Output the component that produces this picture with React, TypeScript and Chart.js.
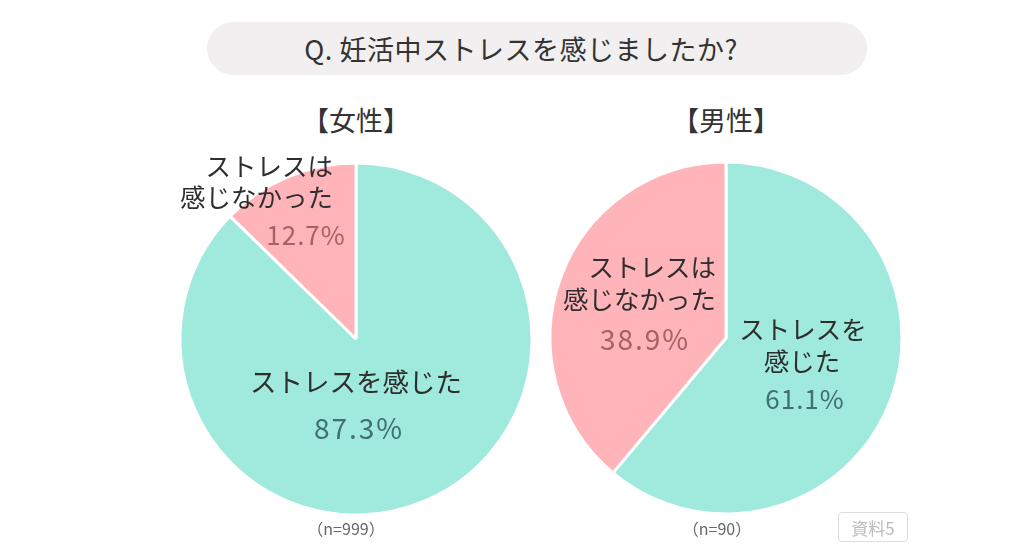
import React, { useEffect, useRef } from "react";
import { Chart, registerables } from "chart.js";

Chart.register(...registerables);

const TITLE = "Q. 妊活中ストレスを感じましたか?";
const CATEGORIES = ["ストレスを感じた", "ストレスは感じなかった"];
const FEMALE_VALUES = [87.3, 12.7];
const MALE_VALUES = [61.1, 38.9];
const GROUP_TITLES = ["【女性】", "【男性】"];
const SAMPLE_LABELS = ["（n=999）", "（n=90）"];
const SOURCE_LABEL = "資料5";

const TEAL = "#9FE9DD";
const PINK = "#FFB4B9";
const TEAL_TEXT = "#426F71";
const PINK_TEXT = "#A85F66";
const LABEL_TEXT = "#2e2e2e";
const FONT = '"Noto Sans CJK JP", "Noto Sans", sans-serif';

type LabelLine = {
  text: string;
  dx: number;
  dy: number;
  color: string;
  size: number;
  align: CanvasTextAlign;
  spacing?: number;
};

const femaleLabels: LabelLine[] = [
  { text: "ストレスは", dx: -23, dy: -173, color: LABEL_TEXT, size: 25.5, align: "right" },
  { text: "感じなかった", dx: -23, dy: -142, color: LABEL_TEXT, size: 25.5, align: "right" },
  { text: `${FEMALE_VALUES[1]}%`, dx: -50, dy: -104, color: PINK_TEXT, size: 26, align: "center", spacing: 1 },
  { text: CATEGORIES[0], dx: 0, dy: 43, color: LABEL_TEXT, size: 26.5, align: "center" },
  { text: `${FEMALE_VALUES[0]}%`, dx: 3, dy: 89, color: TEAL_TEXT, size: 28, align: "center", spacing: 2 },
];

const maleLabels: LabelLine[] = [
  { text: "ストレスは", dx: -10, dy: -71, color: LABEL_TEXT, size: 25.5, align: "right" },
  { text: "感じなかった", dx: -10, dy: -39, color: LABEL_TEXT, size: 25.5, align: "right" },
  { text: `${MALE_VALUES[1]}%`, dx: -81, dy: 1, color: PINK_TEXT, size: 28, align: "center", spacing: 2 },
  { text: "ストレスを", dx: 77, dy: -9, color: LABEL_TEXT, size: 25.5, align: "center" },
  { text: "感じた", dx: 76, dy: 23, color: LABEL_TEXT, size: 25.5, align: "center" },
  { text: `${MALE_VALUES[0]}%`, dx: 79, dy: 61, color: TEAL_TEXT, size: 26, align: "center", spacing: 1 },
];

function makeLabelPlugin(lines: LabelLine[]) {
  return {
    id: "pieLabels",
    afterDatasetsDraw(chart: any) {
      const arc = chart.getDatasetMeta(0).data[0];
      if (!arc) return;
      const { x, y } = arc.getProps(["x", "y"], true);
      const ctx = chart.ctx;
      ctx.save();
      ctx.textBaseline = "middle";
      for (const l of lines) {
        ctx.font = `${l.size}px ${FONT}`;
        ctx.fillStyle = l.color;
        ctx.textAlign = l.align;
        (ctx as any).letterSpacing = `${l.spacing || 0}px`;
        ctx.fillText(l.text, x + l.dx, y + l.dy);
      }
      ctx.restore();
    },
  };
}

function Pie({ values, labels, left, top }: { values: number[]; labels: LabelLine[]; left: number; top: number }) {
  const ref = useRef<HTMLCanvasElement>(null);
  useEffect(() => {
    if (!ref.current) return;
    const chart = new Chart(ref.current, {
      type: "pie",
      data: {
        labels: CATEGORIES,
        datasets: [
          {
            data: values,
            backgroundColor: [TEAL, PINK],
            borderColor: "#ffffff",
            borderWidth: 3,
          },
        ],
      },
      options: {
        animation: false,
        responsive: false,
        devicePixelRatio: 1,
        radius: 176,
        layout: { padding: 0 },
        plugins: { legend: { display: false }, tooltip: { enabled: false } },
      },
      plugins: [makeLabelPlugin(labels)],
    });
    return () => chart.destroy();
  }, []);
  return (
    <canvas
      ref={ref}
      width={400}
      height={400}
      style={{ position: "absolute", left, top, width: 400, height: 400 }}
    />
  );
}

const textStyle: React.CSSProperties = {
  position: "absolute",
  fontFamily: FONT,
  color: "#333",
  whiteSpace: "nowrap",
  transform: "translate(-50%, -50%)",
  lineHeight: 1,
};

export default function App() {
  return (
    <div
      style={{
        position: "fixed",
        left: 0,
        top: 0,
        width: 1024,
        height: 559,
        background: "#ffffff",
        overflow: "hidden",
      }}
    >
      <div
        style={{
          position: "absolute",
          left: 207,
          top: 22,
          width: 660,
          height: 53,
          borderRadius: 27,
          background: "#F1EFEF",
        }}
      />
      <div style={{ ...textStyle, left: 521, top: 48, fontSize: 27, letterSpacing: 0.5, color: "#333" }}>{TITLE}</div>

      <div style={{ ...textStyle, left: 356, top: 119, fontSize: 27 }}>{GROUP_TITLES[0]}</div>
      <div style={{ ...textStyle, left: 726, top: 119, fontSize: 27 }}>{GROUP_TITLES[1]}</div>

      <Pie values={FEMALE_VALUES} labels={femaleLabels} left={156} top={139} />
      <Pie values={MALE_VALUES} labels={maleLabels} left={526} top={138} />

      <div style={{ ...textStyle, left: 346, top: 528, fontSize: 16, color: "#666" }}>{SAMPLE_LABELS[0]}</div>
      <div style={{ ...textStyle, left: 717, top: 528, fontSize: 16, color: "#666" }}>{SAMPLE_LABELS[1]}</div>

      <div
        style={{
          position: "absolute",
          left: 838,
          top: 512,
          width: 70,
          height: 30,
          border: "1.5px solid #DDDDDD",
          borderRadius: 4,
          boxSizing: "border-box",
          fontFamily: FONT,
          fontSize: 17,
          color: "#BBBBBB",
          display: "flex",
          alignItems: "center",
          justifyContent: "center",
          lineHeight: 1,
        }}
      >
        {SOURCE_LABEL}
      </div>
    </div>
  );
}
